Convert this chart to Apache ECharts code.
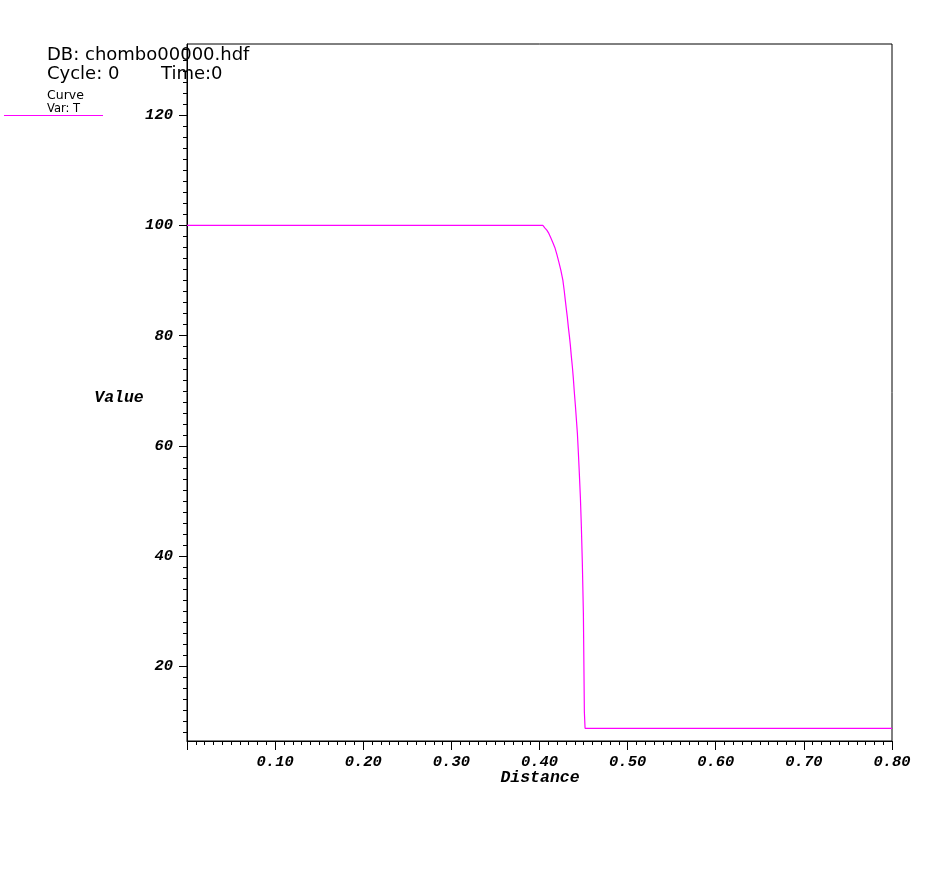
<!DOCTYPE html>
<html>
<head>
<meta charset="utf-8">
<script src="https://cdn.jsdelivr.net/npm/echarts@6/dist/echarts.min.js"></script>
<style>
html,body{margin:0;padding:0;background:#fff;}
#chart{width:941px;height:873px;}
</style>
</head>
<body>
<div id="chart"></div>
<script>
// Data
var distance = [0.0000, 0.4038, 0.4060, 0.4083, 0.4106, 0.4128, 0.4151, 0.4174, 0.4197, 0.4219, 0.4242,
  0.4265, 0.4281, 0.4293, 0.4305, 0.4316, 0.4327, 0.4339, 0.4350, 0.4361, 0.4373, 0.4384,
  0.4395, 0.4407, 0.4418, 0.4430, 0.4441, 0.4452, 0.4464, 0.4475, 0.4486, 0.4498, 0.4509,
  0.4515, 0.4517, 0.8000];
var value = [100.00, 100.00, 99.56, 99.15, 98.55, 97.75, 96.92, 96.01, 94.74, 93.40, 91.89,
  90.08, 88.10, 86.40, 84.77, 83.32, 81.61, 79.98, 78.30, 76.30, 74.36, 72.26,
  69.80, 67.40, 64.95, 62.28, 58.77, 55.03, 50.68, 45.35, 38.82, 29.65, 11.80,
  11.50, 8.80, 8.80];
var yMajorTicks = [20, 40, 60, 80, 100, 120];
var yMinorTicks = [8,10,12,14,16,18,20,22,24,26,28,30,32,34,36,38,40,42,44,46,48,50,52,54,56,58,60,
  62,64,66,68,70,72,74,76,78,80,82,84,86,88,90,92,94,96,98,100,102,104,106,108,110,112,114,116,118,
  120,122,124,126,128,130,132];
var xMin = 0, xMax = 0.8, xInterval = 0.1;
var yMin = 6.5, yMax = 132.9;
var titleLines = ['DB: chombo00000.hdf', 'Cycle: 0', 'Time:0'];
var legendLines = ['Curve', 'Var: T'];
var xName = 'Distance', yName = 'Value';

var chart = echarts.init(document.getElementById('chart'), null, {renderer: 'canvas'});
var tickFont = {fontFamily: 'Liberation Mono', fontWeight: 'bold', fontStyle: 'italic', fontSize: 15.5, color: '#000'};
var gridRect = {left: 187, top: 44, right: 49, bottom: 132};
var pts = distance.map(function (d, i) { return [d, value[i]]; });

var option = {
  animation: false,
  backgroundColor: '#fff',
  grid: [
    Object.assign({show: true, borderColor: '#000', borderWidth: 1, backgroundColor: 'transparent'}, gridRect),
    Object.assign({show: false}, gridRect)
  ],
  xAxis: [
    {
      type: 'value', gridIndex: 0, min: xMin, max: xMax, interval: xInterval,
      axisLine: {show: true, onZero: false, lineStyle: {color: '#000', width: 1}},
      axisTick: {show: true, length: 9, lineStyle: {color: '#000'}},
      minorTick: {show: true, splitNumber: 10, length: 4, lineStyle: {color: '#000'}},
      splitLine: {show: false}, minorSplitLine: {show: false},
      axisLabel: Object.assign({
        margin: 13, showMinLabel: false,
        formatter: function (v) { return v === 0 ? '' : v.toFixed(2); }
      }, tickFont)
    },
    {type: 'value', gridIndex: 1, min: xMin, max: xMax, show: false}
  ],
  yAxis: [
    {
      type: 'value', gridIndex: 0, min: yMin, max: yMax,
      axisLine: {show: true, onZero: false, lineStyle: {color: '#000', width: 1}},
      axisTick: {show: true, length: 8, customValues: yMajorTicks, lineStyle: {color: '#000'}},
      splitLine: {show: false},
      axisLabel: Object.assign({margin: 14, customValues: yMajorTicks}, tickFont)
    },
    {
      type: 'value', gridIndex: 1, min: yMin, max: yMax,
      axisLine: {show: false},
      axisTick: {show: true, length: 4, customValues: yMinorTicks, lineStyle: {color: '#000'}},
      splitLine: {show: false},
      axisLabel: {show: false}
    }
  ],
  series: [{
    type: 'line', xAxisIndex: 0, yAxisIndex: 0,
    data: pts, showSymbol: false, symbol: 'none',
    lineStyle: {color: '#ff00ff', width: 1.2}
  }],
  graphic: [
    {type: 'text', left: 47, top: 46, style: {text: titleLines[0], font: 'normal 18px "DejaVu Sans"', fill: '#000'}},
    {type: 'text', left: 47, top: 65, style: {text: titleLines[1], font: 'normal 18px "DejaVu Sans"', fill: '#000'}},
    {type: 'text', left: 161, top: 65, style: {text: titleLines[2], font: 'normal 18px "DejaVu Sans"', fill: '#000'}},
    {type: 'text', left: 47, top: 89, style: {text: legendLines[0], font: 'normal 12.5px "DejaVu Sans"', fill: '#000'}},
    {type: 'text', left: 47, top: 103, style: {text: legendLines[1], font: 'normal 11.5px "DejaVu Sans"', fill: '#000'}},
    {type: 'line', shape: {x1: 4, y1: 115.5, x2: 103, y2: 115.5}, style: {stroke: '#ff00ff', lineWidth: 1}},
    {type: 'text', x: 119, y: 398, style: {text: yName, font: 'italic bold 16.5px "Liberation Mono"', fill: '#000', align: 'center', verticalAlign: 'middle'}},
    {type: 'text', x: 540, y: 778, style: {text: xName, font: 'italic bold 16.5px "Liberation Mono"', fill: '#000', align: 'center', verticalAlign: 'middle'}}
  ]
};
chart.setOption(option);
</script>
</body>
</html>
